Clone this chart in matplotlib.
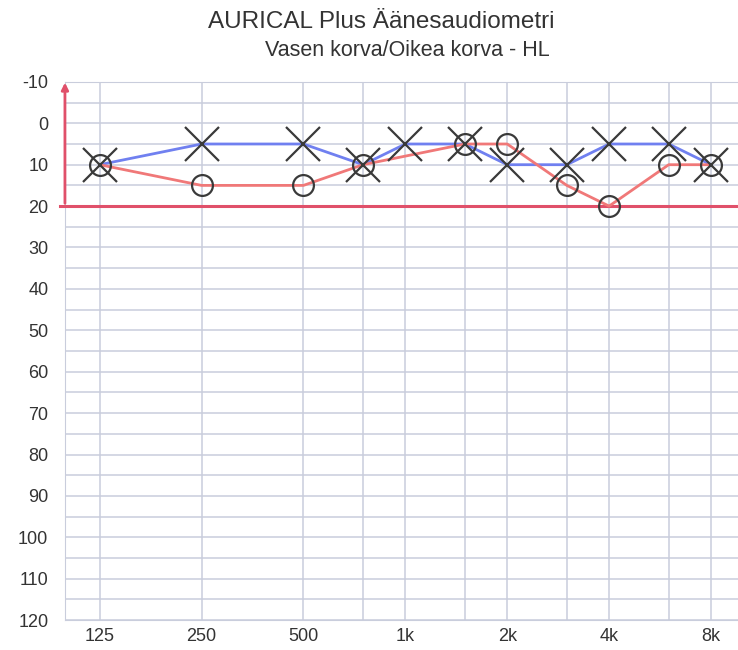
import numpy as np
import matplotlib.pyplot as plt
from matplotlib.ticker import FixedLocator, NullFormatter

# audiogram data (dB HL)
freqs = [125, 250, 500, 750, 1000, 1500, 2000, 3000, 4000, 6000, 8000]
left_ear = [10, 5, 5, 10, 5, 5, 10, 10, 5, 5, 10]          # X, blue
right_freqs = [125, 250, 500, 750, 1500, 2000, 3000, 4000, 6000, 8000]
right_ear = [10, 15, 15, 10, 5, 5, 15, 20, 10, 10]          # O, red

tick_freqs = [125, 250, 500, 1000, 2000, 4000, 8000]
tick_labels = ['125', '250', '500', '1k', '2k', '4k', '8k']
db_ticks = list(range(-10, 130, 10))
db_labels = [str(v) for v in db_ticks]

plt.rcParams['font.family'] = ['Liberation Sans', 'DejaVu Sans']

fig = plt.figure(figsize=(7.38, 6.5), dpi=100)
ax = fig.add_axes([0.088, 0.046, 0.912, 0.828])

ax.set_xscale('log', base=2)
ax.set_xlim(98.7, 9613)
ax.set_ylim(120, -10)

grid_c = '#c9cddc'
ax.xaxis.set_major_locator(FixedLocator(tick_freqs))
ax.xaxis.set_minor_locator(FixedLocator(freqs))
ax.xaxis.set_minor_formatter(NullFormatter())
ax.set_xticklabels(tick_labels)
ax.yaxis.set_major_locator(FixedLocator(db_ticks))
ax.yaxis.set_minor_locator(FixedLocator(list(range(-10, 125, 5))))
ax.set_yticklabels(db_labels)
ax.grid(True, which='both', color=grid_c, lw=1.1)
ax.tick_params(which='both', length=0, labelsize=13, labelcolor='#333333')
ax.tick_params(axis='y', pad=12)
ax.tick_params(axis='x', pad=6)
for s in ax.spines.values():
    s.set_color(grid_c)
ax.spines['right'].set_visible(False)

# red reference lines
ax.axhline(20, xmin=-0.008, color='#e0506a', lw=2.2, zorder=3, clip_on=False)
ax.annotate('', xy=(98.7, -10.5), xytext=(98.7, 20), xycoords='data',
            arrowprops=dict(arrowstyle='-|>', color='#e0506a', lw=2, mutation_scale=10),
            annotation_clip=False, zorder=3)

ax.plot(freqs, left_ear, color='#7080f0', lw=2, zorder=4)
ax.plot(right_freqs, right_ear, color='#f07878', lw=2, zorder=4)
ax.plot(freqs, left_ear, ls='none', marker='x', ms=24, mew=1.6, color='#3a3a3a', zorder=5)
ax.plot(right_freqs, right_ear, ls='none', marker='o', ms=15, mew=1.6,
        mfc='none', mec='#3a3a3a', zorder=5)

fig.text(0.517, 0.966, 'AURICAL Plus Äänesaudiometri', ha='center', va='center',
         fontsize=17.5, color='#333333')
fig.text(0.552, 0.923, 'Vasen korva/Oikea korva - HL', ha='center', va='center',
         fontsize=15.5, color='#333333')

fig.savefig('out.png', dpi=100)
